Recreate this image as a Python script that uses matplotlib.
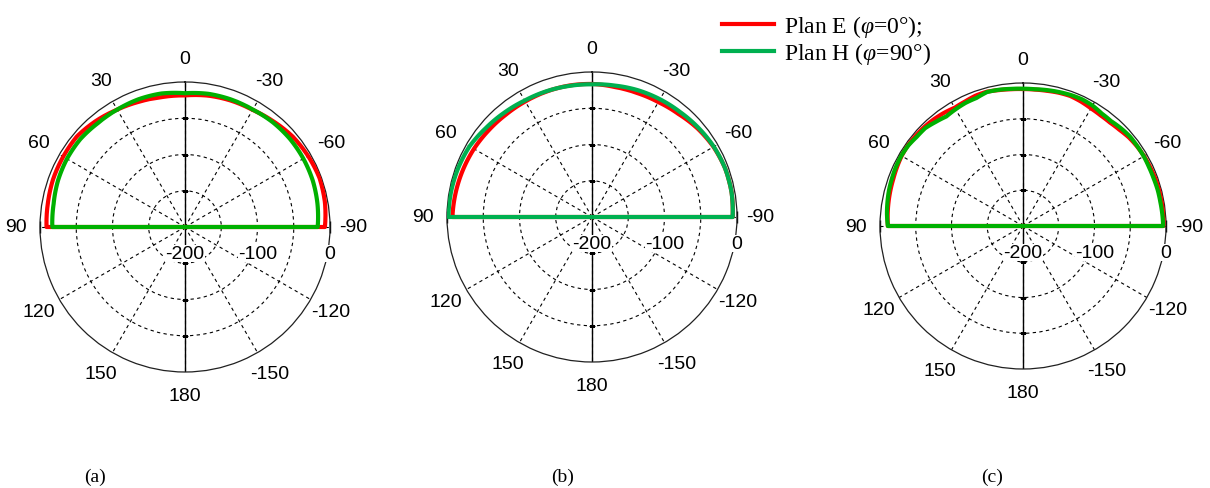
import numpy as np
import matplotlib
matplotlib.use("Agg")
import matplotlib.pyplot as plt
from matplotlib.transforms import offset_copy

plt.rcParams["mathtext.fontset"] = "custom"
plt.rcParams["mathtext.rm"] = "Liberation Serif"
plt.rcParams["mathtext.it"] = "Liberation Serif:italic"

# Angles in degrees (positive = left of the 0 direction), levels in dB
ANG_10 = [90, 80, 70, 60, 50, 40, 30, 20, 10, 0,
          -10, -20, -30, -40, -50, -60, -70, -80, -90]
ANG_5 = [90, 85, 80, 75, 70, 65, 60, 55, 50, 45, 40, 35, 30, 25, 20, 15, 10, 5, 0,
         -5, -10, -15, -20, -25, -30, -35, -40, -45, -50, -55, -60, -65, -70, -75,
         -80, -85, -90]

# (a)
a_planE = [-9, -8, -6.5, -6, -5.5, -9, -13, -16, -18, -18.5,
           -16, -14.5, -13.5, -10, -6, -4, -2.5, -4, -7]
a_planH = [-17, -16, -13.5, -12, -11.5, -13, -13, -12.5, -13, -15.5,
           -13.5, -13, -13, -11.5, -11, -11.5, -12.5, -14.5, -17]
# (b)
b_planE = [-7.5, -9, -10.5, -12, -14, -15.5, -16, -16, -16, -16.5,
           -18, -18, -17, -14.5, -10, -6.5, -4.5, -4.5, -6]
b_planH = [-2, -2.5, -3.5, -5, -9, -12, -14.5, -15.5, -16.5, -17,
           -16, -14, -12.5, -11, -8.5, -6, -4.5, -4.5, -6]
# (c)
c_planE = [-11, -10, -9, -8, -7, -5.5, -4, -3.5, -4, -4.5, -5.5, -7, -9, -8, -6,
           -5.5, -7, -8, -8.5, -8.5, -8, -7, -6.5, -8, -10, -11, -11, -9.5, -7,
           -5.5, -4.5, -4, -3.5, -3, -3, -3, -3.5]
c_planH = [-11, -9, -7.5, -6, -5, -4, -3.5, -4, -6, -6.5, -10, -13, -11.5, -10,
           -9.5, -6, -6.5, -7.5, -8, -8, -7, -6, -5, -4.5, -5.5, -8, -8.5, -6.5,
           -5, -5, -5, -5.5, -5.5, -5, -5, -4.5, -4]

R_MIN, R_MAX = -200, 0
RINGS = [-150, -100, -50]
R_LABELS = [-200, -100, 0]
THETA_TICKS = list(range(0, 360, 30))
THETA_LABELS = [str(t if t <= 180 else t - 360) for t in THETA_TICKS]

RED = "#ff0000"
GREEN_AC = "#00b000"
GREEN_B = "#00b050"
TICK_FONT = "Liberation Sans"
SERIF = "Liberation Serif"

fig = plt.figure(figsize=(12.1, 4.89), dpi=100)

# axes boxes [left, bottom, width, height] in figure fraction
boxes = [
    [40 / 1210, 116 / 489, 290 / 1210, 290 / 489],
    [447 / 1210, 126 / 489, 290 / 1210, 290 / 489],
    [880 / 1210, 119 / 489, 286 / 1210, 286 / 489],
]
panels = [
    (ANG_10, a_planE, a_planH, GREEN_AC, "(a)", 95),
    (ANG_10, b_planE, b_planH, GREEN_B, "(b)", 563),
    (ANG_5, c_planE, c_planH, GREEN_AC, "(c)", 992),
]


def closed(ang, vals):
    """Front hemisphere plus the floor level behind (drawn through the centre)."""
    th = [-90] + ang[::-1] + [90]
    rr = [R_MIN] + vals[::-1] + [R_MIN]
    return np.deg2rad(th), np.array(rr, dtype=float)


def polar_line(ax, th, rr, **kw):
    # let the polar transform draw arcs between the points
    ln, = ax.plot(th, rr, **kw)
    ln._path._interpolation_steps = 40
    ln.set_data(th, rr)
    return ln


handles = None
for box, (ang, e_vals, h_vals, gcol, tag, tag_x) in zip(boxes, panels):
    ax = fig.add_axes(box, projection="polar")
    ax.set_theta_zero_location("N")
    ax.set_theta_direction(1)
    ax.set_ylim(R_MIN, R_MAX)
    ax.set_yticks(RINGS)
    ax.set_yticklabels([])
    ax.set_thetagrids(THETA_TICKS, THETA_LABELS, fontfamily=TICK_FONT, fontsize=14)
    ax.tick_params(axis="x", pad=10, length=0)
    ax.grid(True, color="black", lw=0.8, ls=(0, (3, 3)))
    ax.spines["polar"].set_linewidth(0.9)
    ax.spines["polar"].set_color("#202020")

    # solid 0-180 axis and small ticks
    ax.plot([0, 0], [R_MIN, R_MAX], color="black", lw=1, zorder=2)
    ax.plot([np.pi, np.pi], [R_MIN, R_MAX], color="black", lw=1, zorder=2)
    for t in (0, np.pi):
        ax.plot([t] * len(RINGS), RINGS, ls="none", marker="_", ms=4,
                color="black", mew=0.8, zorder=2)
    ax.plot(np.deg2rad([90, -90]), [R_MAX, R_MAX], ls="none", marker="|", ms=9,
            color="black", mew=1, zorder=2, clip_on=False)

    th, rr = closed(ang, e_vals)
    le = polar_line(ax, th, rr, color=RED, lw=3, zorder=3)
    th, rr = closed(ang, h_vals)
    lh = polar_line(ax, th, rr, color=gcol, lw=3, zorder=4)
    if tag == "(b)":
        handles = (le, lh)

    # radial labels under the right half of the horizontal axis
    trans = offset_copy(ax.transData, fig=fig, x=0, y=-19, units="points")
    for v in R_LABELS:
        ax.text(np.deg2rad(-90), v, str(v), transform=trans, ha="center", va="center",
                fontfamily=TICK_FONT, fontsize=14, zorder=5,
                bbox=dict(fc="white", ec="none", pad=0.3))

    fig.text(tag_x / 1210, 1 - 477 / 489, tag, ha="center", va="center",
             fontfamily=SERIF, fontsize=14)

fig.legend(handles,
           [r"Plan E ($\mathit{\varphi}$=$\mathit{0}$°);",
            r"Plan H ($\mathit{\varphi}$=$\mathit{90}$°)"],
           loc="upper left", bbox_to_anchor=(708 / 1210, 1.0), frameon=False,
           prop=dict(family=SERIF, size=17), handlelength=2.2, handletextpad=0.4,
           labelspacing=0.05, borderaxespad=0.2)

fig.savefig("out.png", dpi=100)
